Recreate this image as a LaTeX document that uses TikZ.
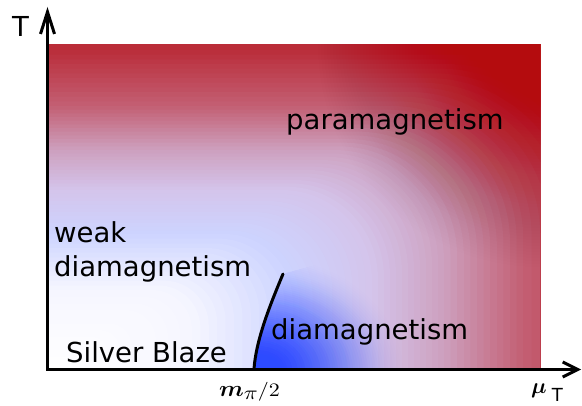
\documentclass[tikz,border=0pt]{standalone}
\usepackage{fontspec}
\setmainfont{DejaVu Sans}
\usepackage{amsmath}
\usepackage{graphicx}
\usetikzlibrary{arrows.meta}
\definecolor{cA}{RGB}{246,246,255}
\definecolor{cB}{RGB}{205,212,255}
\definecolor{cC}{RGB}{212,196,235}
\definecolor{cD}{RGB}{205,160,190}
\definecolor{cE}{RGB}{195,95,115}
\definecolor{cF}{RGB}{186,45,58}
\definecolor{cG}{RGB}{180,12,14}
\definecolor{blobblue}{RGB}{45,75,255}
\tikzset{
  lbl/.style={inner sep=0pt, anchor=base west, font=\fontsize{27.5}{33}\selectfont},
  mathlbl/.style={inner sep=0pt, anchor=base west},
  axisline/.style={line width=3pt, line join=miter},
  phase/.style={line width=3pt, line cap=round},
}
\begin{document}
\begin{tikzpicture}[x=1pt,y=-1pt]
\useasboundingbox (0,0) rectangle (582,406);
% background gradient: concentric rounded rectangles around the lower-left corner
\begin{scope}
  \clip (49,45) rectangle (540,369);
  \foreach \ta/\tb/\ca/\cb in {1.0/1.2/cG/cG, 0.8/1.0/cF/cG, 0.66/0.8/cE/cF, 0.55/0.66/cD/cE, 0.45/0.55/cC/cD, 0.34/0.45/cB/cC, 0.2/0.34/cA/cB, 0/0.2/white/cA} {
    \foreach \k in {12,11,...,1} {
      \pgfmathsetmacro{\tv}{\ta+(\tb-\ta)*\k/12}
      \pgfmathsetmacro{\pv}{100*(\k-0.5)/12}
      \pgfmathsetmacro{\rc}{200*\tv}
      \fill[\cb!\pv!\ca, rounded corners=\rc pt] (48-720*\tv,370+400*\tv) rectangle (48+720*\tv,370-400*\tv);
    }
  }
  % dark red glow from the upper-right corner
  \foreach \r in {3,6,...,240} {
    \pgfmathsetmacro{\op}{0.03*(1-\r/240)}
    \fill[cG, fill opacity=\op] (540,45) circle[radius=\r];
  }
\end{scope}
% blue blob right of the transition line
\begin{scope}
  \clip (254,369) .. controls (256,340) and (270,305) .. (283,274) -- (540,200) -- (540,369) -- cycle;
  \foreach \r in {2,4,...,120} {
    \pgfmathsetmacro{\op}{0.1*(1-\r/120)}
    \fill[blobblue, fill opacity=\op] (258,372) ellipse [x radius=1.25*\r, y radius=\r];
  }
\end{scope}
% axes
\coordinate (O) at (47.5,369.5);
\coordinate (Ytip) at (47.5,7);
\coordinate (Xtip) at (581,369.5);
\draw[axisline, {Straight Barb[length=22pt,width=14pt]}-{Straight Barb[length=15pt,width=15pt]}] (Ytip) -- (O) -- (Xtip);
% transition line
\coordinate (cb) at (254,369);
\coordinate (ct) at (283,274);
\draw[phase] (cb) .. controls (256,340) and (270,305) .. (ct);
% labels
\node[lbl] (tlab) at (12,37) {T};
\node[lbl] (para) at (286,130) {paramagnetism};
\node[lbl] (weak) at (54,243) {weak};
\node[lbl] (wdia) at (54,277) {diamagnetism};
\node[lbl] (sb) at (66,363) {Silver Blaze};
\node[lbl] (dia) at (271,340) {diamagnetism};
\node[mathlbl] (mpi) at (219,397)
  {\scalebox{2.4}[2.25]{$\boldsymbol{m}$}\raisebox{-2pt}{\scalebox{2.3}[1.95]{$\pi$}}\scalebox{2.2}[1.9]{$/2$}};
\node[mathlbl] (mut) at (531,394)
  {\scalebox{2.2}{$\boldsymbol{\mu}$}\hspace{5pt}\raisebox{-8pt}{\fontsize{18}{18}\selectfont T}};
\end{tikzpicture}
\end{document}
